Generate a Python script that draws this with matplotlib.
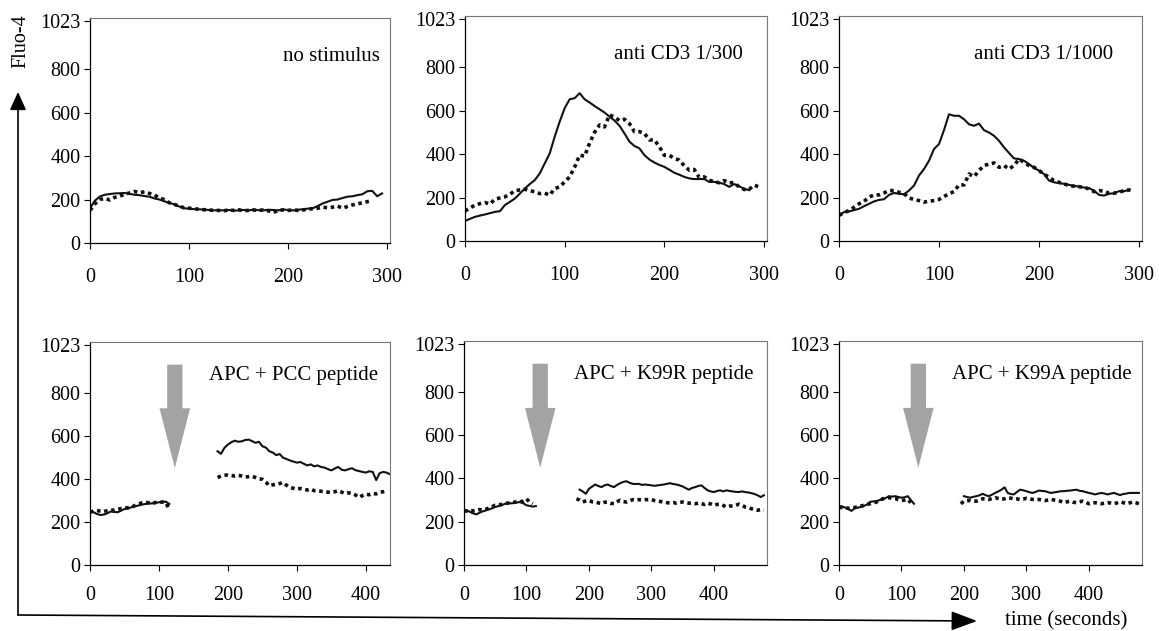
import numpy as np
import matplotlib
matplotlib.use('Agg')
import matplotlib.pyplot as plt
from matplotlib.patches import FancyArrowPatch

plt.rcParams['font.family'] = ['Liberation Serif', 'DejaVu Serif']

# ---- top row: 0..295 s, every 5 s ----
t_top = np.arange(0, 300, 5)
nan = np.nan

nostim_solid = [160, 195, 214, 222, 225, 228, 229, 230, 226, 222, 220, 216, 213, 205, 200, 192, 185, 178, 168, 160,
                158, 156, 155, 154, 152, 150, 151, 150, 152, 149, 150, 152, 150, 153, 151, 150, 153, 152, 150, 154,
                152, 150, 153, 155, 158, 160, 170, 182, 190, 198, 200, 207, 213, 215, 220, 224, 238, 240, 215, 228]
nostim_dot = [150, 180, 200, 205, 198, 210, 215, 225, 230, 237, 232, 235, 228, 222, 206, 200, 185, 178, 170, 162,
              160, 158, 155, 153, 152, 150, 150, 148, 152, 150, 153, 148, 150, 152, 150, 152, 148, 140, 150, 152,
              150, 152, 150, 152, 155, 158, 160, 165, 162, 165, 170, 160, 168, 175, 180, 185, 190, 195, nan, nan]

cd3_300_solid = [92, 102, 111, 117, 122, 128, 134, 137, 165, 180, 195, 218, 241, 262, 280, 311, 357, 403, 480, 549,
                 611, 652, 657, 680, 652, 637, 621, 606, 591, 572, 554, 530, 495, 457, 437, 426, 395, 375, 361, 350,
                 341, 328, 314, 305, 295, 288, 285, 285, 285, 272, 272, 269, 262, 249, 262, 252, 240, 234, nan, nan]
cd3_300_dot = [138, 152, 165, 172, 177, 170, 192, 198, 203, 215, 231, 235, 238, 232, 226, 218, 220, 211, 241, 249,
               272, 295, 340, 395, 390, 450, 500, 534, 525, 580, 570, 554, 560, 540, 503, 503, 495, 465, 465, 434,
               394, 394, 380, 372, 346, 326, 329, 292, 295, 280, 272, 268, 278, 268, 268, 249, 237, 237, 257, 249]

cd3_1000_solid = [118, 133, 136, 142, 148, 160, 171, 182, 189, 192, 212, 221, 217, 215, 232, 255, 301, 331, 369, 423,
                  446, 510, 583, 576, 576, 560, 537, 530, 540, 510, 499, 484, 461, 431, 405, 380, 377, 369, 354, 336,
                  324, 308, 278, 270, 266, 263, 258, 254, 250, 246, 243, 232, 212, 209, 217, 220, 229, 229, 235, nan]
cd3_1000_dot = [118, 130, 140, 155, 171, 182, 202, 212, 212, 221, 232, 232, 224, 218, 198, 191, 186, 179, 183, 186,
                191, 205, 217, 227, 258, 258, 308, 296, 324, 347, 354, 359, 339, 347, 331, 347, 377, 362, 347, 339,
                324, 308, 293, 278, 270, 263, 255, 252, 250, 246, 240, 227, 232, 229, 220, 220, 224, 232, 235, 227]

top_labels = ['no stimulus', 'anti CD3 1/300', 'anti CD3 1/1000']
top_solid = [nostim_solid, cd3_300_solid, cd3_1000_solid]
top_dot = [nostim_dot, cd3_300_dot, cd3_1000_dot]

# ---- bottom row: before and after adding APC ----
pcc_pre_t = np.arange(0, 120, 5)
pcc_pre_solid = [253, 245, 237, 232, 234, 240, 248, 246, 245, 252, 260, 262, 268, 272, 276, 280, 283, 285, 286, 288,
                 291, 293, 294, 283]
pcc_pre_dot = [245, 250, 253, 250, 248, 252, 256, 254, 258, 262, 265, 266, 268, 276, 283, 288, 291, 289, 286, 290,
               291, 292, 290, 256]
pcc_post_t = np.arange(185, 440, 5)
pcc_post_solid = [528, 516, 544, 559, 570, 577, 572, 574, 580, 582, 575, 567, 572, 551, 545, 528, 522, 510, 515, 498,
                  492, 485, 480, 475, 478, 470, 462, 467, 458, 462, 455, 452, 445, 439, 448, 455, 442, 439, 445, 449,
                  440, 436, 432, 429, 435, 432, 394, 426, 432, 429, 421]
pcc_post_dot = [406, 413, 416, 418, 415, 413, 416, 413, 408, 410, 412, 406, 400, 398, 385, 368, 372, 375, 378, 383,
                370, 360, 356, 352, 355, 352, 348, 352, 345, 345, 342, 340, 338, 337, 340, 345, 338, 332, 335, 332,
                325, 314, 322, 329, 326, 332, 330, 337, 340, 345, nan]

k99r_pre_t = np.arange(0, 120, 5)
k99r_pre_solid = [256, 252, 245, 238, 234, 242, 248, 252, 257, 262, 268, 272, 276, 282, 286, 285, 286, 289, 291, 285,
                  276, 273, 270, 272]
k99r_pre_dot = [248, 250, 253, 250, 252, 256, 254, 258, 263, 270, 276, 278, 280, 283, 286, 288, 290, 292, 291, 296,
                306, 291, 283, nan]
k99r_post_t = np.arange(180, 485, 5)
k99r_post_solid = [nan, 348, 340, 329, 352, 362, 372, 365, 360, 368, 372, 365, 360, 370, 378, 384, 387, 380, 375, 374,
                   375, 370, 372, 370, 368, 366, 368, 370, 372, 375, 378, 374, 372, 368, 363, 355, 348, 356, 360, 365,
                   368, 356, 345, 340, 337, 342, 345, 340, 345, 342, 340, 338, 337, 340, 337, 335, 332, 328, 322, 314,
                   322]
k99r_post_dot = [306, 300, 291, 296, 299, 292, 291, 287, 283, 290, 291, 285, 283, 292, 299, 293, 291, 296, 302, 300,
                 302, 300, 302, 302, 302, 298, 296, 293, 291, 288, 286, 288, 286, 290, 291, 288, 286, 284, 283, 286,
                 283, 280, 286, 282, 276, 280, 281, 275, 268, 272, 273, 276, 281, 276, 268, 265, 260, 256, 253, 256,
                 253]

k99a_pre_t = np.arange(0, 125, 5)
k99a_pre_solid = [273, 270, 265, 258, 250, 262, 265, 268, 273, 280, 292, 294, 295, 300, 303, 310, 318, 316, 318, 314,
                  311, 313, 318, 300, 283]
k99a_pre_dot = [265, 266, 264, 262, 264, 266, 268, 272, 276, 280, 283, 287, 291, 298, 306, 308, 311, 309, 308, 302,
                298, 300, 303, 288, nan]
k99a_post_t = np.arange(195, 485, 5)
k99a_post_solid = [nan, 318, 314, 311, 315, 318, 322, 329, 322, 318, 325, 333, 340, 348, 359, 333, 328, 326, 338, 348,
                   345, 341, 336, 333, 338, 344, 342, 341, 336, 333, 336, 338, 341, 341, 343, 344, 346, 348, 343, 341,
                   337, 333, 330, 326, 330, 333, 330, 326, 330, 333, 328, 323, 328, 330, 333, 333, 333, 333]
k99a_post_dot = [283, 295, 297, 298, 295, 295, 300, 306, 305, 303, 307, 311, 307, 303, 306, 311, 309, 303, 305, 303,
                 305, 308, 305, 303, 302, 303, 300, 298, 300, 303, 300, 298, 294, 288, 292, 295, 290, 288, 292, 295,
                 290, 283, 287, 288, 285, 283, 286, 288, 286, 283, 287, 292, 288, 283, 287, 291, 288, 283]

bottom_labels = ['APC + PCC peptide', 'APC + K99R peptide', 'APC + K99A peptide']
bottom_series = [
    (pcc_pre_t, pcc_pre_solid, pcc_pre_dot, pcc_post_t, pcc_post_solid, pcc_post_dot),
    (k99r_pre_t, k99r_pre_solid, k99r_pre_dot, k99r_post_t, k99r_post_solid, k99r_post_dot),
    (k99a_pre_t, k99a_pre_solid, k99a_pre_dot, k99a_post_t, k99a_post_solid, k99a_post_dot),
]
stim_time = [123, 122, 127]
bottom_xmax = [435, 485, 485]

W, H = 1159, 631
fig = plt.figure(figsize=(W / 100, H / 100), dpi=100)

# panel boxes in pixels: left, top, right, bottom
top_boxes = [(90, 18, 390, 243), (465, 16, 767, 241), (839, 16, 1142, 241)]
bot_boxes = [(90, 342, 390, 565), (464, 341, 767, 565), (839, 341, 1142, 565)]
top_text_x = [0.967, 0.92, 0.905]
bot_text_x = [0.96, 0.955, 0.967]

solid_kw = dict(color='#111111', lw=1.5)
dot_kw = dict(color='#111111', lw=2.6, linestyle=(0, (1, 1)))


def make_ax(box, xpad):
    l, t, r, b = box
    ax = fig.add_axes([l / W, 1 - b / H, (r - l) / W, (b - t) / H])
    ax.set_ylim(0, 1035)
    ax.set_yticks([0, 200, 400, 600, 800, 1023])
    ax.tick_params(direction='out', length=4, width=0.8, labelsize=14.5)
    ax.tick_params(axis='y', pad=3)
    ax.tick_params(axis='x', pad=xpad)
    for s in ['top', 'right']:
        ax.spines[s].set_color('#777777')
        ax.spines[s].set_linewidth(0.8)
    for s in ['left', 'bottom']:
        ax.spines[s].set_linewidth(0.9)
    return ax


for i in range(3):
    ax = make_ax(top_boxes[i], 14)
    ax.plot(t_top, top_solid[i], **solid_kw)
    ax.plot(t_top, top_dot[i], **dot_kw)
    ax.set_xlim(0, 303)
    ax.set_xticks([0, 100, 200, 300])
    ax.text(top_text_x[i], 0.83, top_labels[i], transform=ax.transAxes,
            ha='right', va='center', fontsize=15)

for i in range(3):
    ax = make_ax(bot_boxes[i], 11)
    pre_t, pre_s, pre_d, post_t, post_s, post_d = bottom_series[i]
    ax.plot(pre_t, pre_s, **solid_kw)
    ax.plot(pre_t, pre_d, **dot_kw)
    ax.plot(post_t, post_s, **solid_kw)
    ax.plot(post_t, post_d, **dot_kw)
    ax.set_xlim(0, bottom_xmax[i])
    ax.set_xticks([0, 100, 200, 300, 400])
    ax.annotate('', xy=(stim_time[i], 450), xytext=(stim_time[i], 930),
                arrowprops=dict(arrowstyle='simple,head_length=43,head_width=22,tail_width=11',
                                mutation_scale=1, fc='#a3a3a3', ec='none',
                                shrinkA=0, shrinkB=0))
    ax.text(bot_text_x[i], 0.85, bottom_labels[i], transform=ax.transAxes,
            ha='right', va='center', fontsize=15)

# big L-shaped axis arrows
corner = (18 / W, 1 - 615 / H)
fig.add_artist(FancyArrowPatch(corner, (18 / W, 1 - 92 / H), transform=fig.transFigure,
                               arrowstyle='-|>,head_length=11,head_width=5', mutation_scale=1,
                               color='black', lw=1.2, shrinkA=0, shrinkB=0))
fig.add_artist(FancyArrowPatch(corner, (977 / W, 1 - 621 / H), transform=fig.transFigure,
                               arrowstyle='-|>,head_length=16,head_width=6', mutation_scale=1,
                               color='black', lw=1.2, shrinkA=0, shrinkB=0))
fig.text(21 / W, 1 - 41 / H, 'Fluo-4', rotation=90, ha='center', va='center', fontsize=14.5)
fig.text(1066 / W, 1 - 621 / H, 'time (seconds)', ha='center', va='center', fontsize=15)

fig.savefig('out.png', dpi=100)
